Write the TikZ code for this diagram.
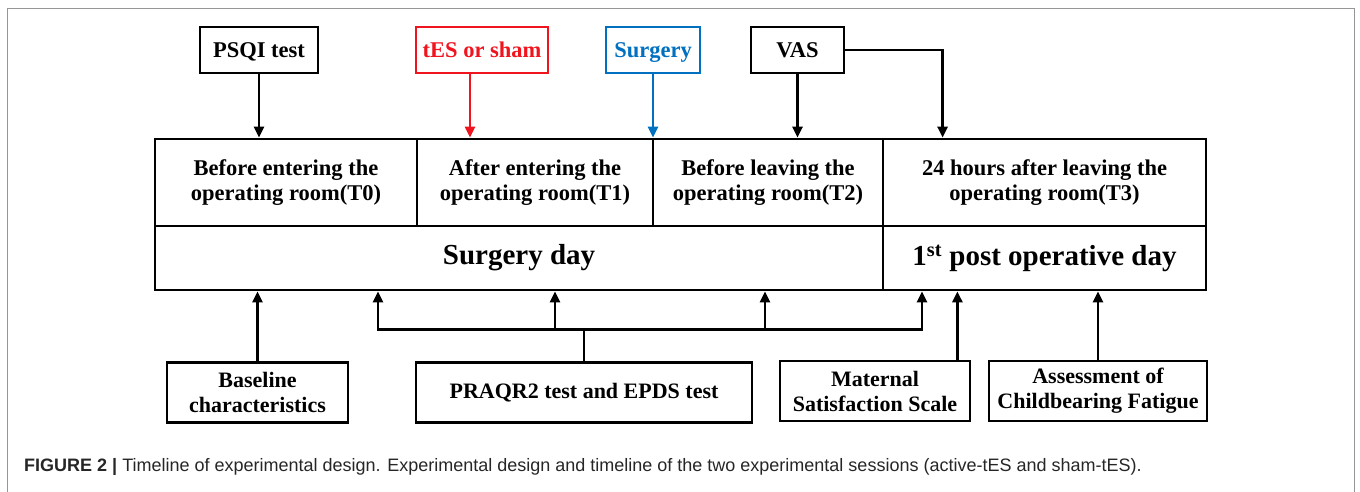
\documentclass[tikz,border=0pt]{standalone}
\usepackage{fontspec}
\setmainfont{Liberation Serif}
\setsansfont{Liberation Sans}
\usepackage{xcolor}
\usetikzlibrary{arrows.meta, calc, positioning}
\definecolor{tesred}{RGB}{240,20,30}
\definecolor{surgblue}{RGB}{0,112,192}
\definecolor{framegray}{RGB}{150,150,150}

\begin{document}
\begin{tikzpicture}[
    x=1pt, y=-1pt,
    box/.style={rectangle, draw, line width=2.8pt, inner sep=0pt, align=center, font=\bfseries\fontsize{22.5}{25}\selectfont},
    cell/.style={box, minimum height=87pt},
    daycell/.style={box, minimum height=64pt, font=\bfseries\fontsize{29}{32}\selectfont},
    topbox/.style={box, minimum height=46pt, text height=18pt, text depth=4pt},
    lowbox/.style={box, minimum height=60pt, font=\bfseries\fontsize{22}{25}\selectfont},
    arrow/.style={-{Triangle[length=11pt,width=10pt]}, line width=2.8pt},
    link/.style={line width=2.8pt}
]
    \useasboundingbox (0,0) rectangle (1360,491);
    \draw[framegray, line width=1pt] (7,500) -- (7,8) -- (1354,8) -- (1354,500);

    % time points
    \node[cell, minimum width=262pt] (t0) at (286,182.5) {Before entering the\\operating room(T0)};
    \node[cell, minimum width=236pt] (t1) at (535,182.5) {After entering the\\operating room(T1)};
    \node[cell, minimum width=230pt] (t2) at (768,182.5) {Before leaving the\\operating room(T2)};
    \node[cell, minimum width=323pt] (t3) at (1044.5,182.5) {24 hours after leaving the\\operating room(T3)};

    % days
    \node[daycell, minimum width=728pt] (sday) at (519,258) {Surgery day};
    \node[daycell, minimum width=323pt] (pday) at (1044.5,258) {1\textsuperscript{st} post operative day};

    % upper measures
    \node[topbox, minimum width=118pt] (psqi) at (259,50) {PSQI test};
    \node[topbox, minimum width=132pt, tesred, text=tesred] (tes) at (482,50) {tES or sham};
    \node[topbox, minimum width=94pt, surgblue, text=surgblue] (surg) at (653,50) {Surgery};
    \node[topbox, minimum width=93pt] (vas) at (797.5,50) {VAS};

    % lower measures
    \node[lowbox, minimum width=181pt] (base) at (257.5,392.5) {Baseline\\characteristics};
    \node[lowbox, minimum width=336pt] (praqr) at (584,392.5) {PRAQR2 test and EPDS test};
    \node[lowbox, minimum width=190pt] (mss) at (875,391) {Maternal\\Satisfaction Scale};
    \node[lowbox, minimum width=218pt] (acf) at (1098,391) {Assessment of\\Childbearing Fatigue};

    % caption
    \node[anchor=west, inner sep=0pt, text=black!85, font=\sffamily\fontsize{18}{21}\selectfont] (caption) at (24,467)
        {\textbf{FIGURE 2 |} Timeline of experimental design. Experimental design and timeline of the two experimental sessions (active-tES and sham-tES).};

    % arrows from above
    \draw[arrow] (psqi) -- (psqi |- t0.north);
    \draw[arrow, tesred] ([xshift=-12pt]tes.south) -- ([xshift=-12pt]tes.south |- t1.north);
    \draw[arrow, surgblue] (surg) -- (surg |- t2.north);
    \draw[arrow] (vas) -- (vas |- t2.north);
    \draw[arrow] (vas.east) -| ([xshift=61pt]t3.north west);

    % arrows from below
    \draw[arrow] (base) -- (base |- sday.south);
    \coordinate (bus) at ($(praqr.north)+(0,-32)$);
    \draw[link] (praqr) -- (bus);
    \draw[arrow] (bus) -| ([xshift=-206pt]bus |- sday.south);
    \draw[arrow] (bus) -| ([xshift=338pt]bus |- pday.south);
    \draw[arrow] ([xshift=-29pt]bus) -- ([xshift=-29pt]bus |- sday.south);
    \draw[arrow] ([xshift=181pt]bus) -- ([xshift=181pt]bus |- sday.south);
    \draw[arrow] ([xshift=-14pt]mss.north east) -- ([xshift=-14pt]mss.north east |- pday.south);
    \draw[arrow] (acf) -- (acf |- pday.south);
\end{tikzpicture}
\end{document}
